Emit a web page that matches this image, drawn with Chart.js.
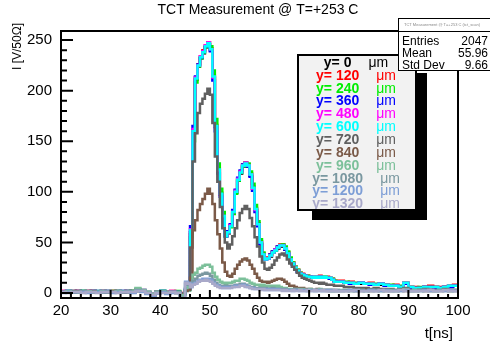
<!DOCTYPE html>
<html><head><meta charset="utf-8">
<script src="https://cdn.jsdelivr.net/npm/chart.js@4/dist/chart.umd.min.js"></script>
<style>html,body{margin:0;padding:0;background:#fff;}#wrap{width:490px;height:341px;}</style>
</head><body><div id="wrap"><canvas id="c" width="490" height="341"></canvas></div>
<script>
// bin edges (ns)
const binEdges = [20,21,22,23,24,25,26,27,28,29,30,31,32,33,34,35,36,37,38,39,40,41,42,43,
44,44.5,45,45.5,46,46.5,47,47.5,48,48.5,49,49.5,50,50.5,51,51.5,52,52.5,53,53.5,54,54.5,55,55.5,56,56.5,57,57.5,58,58.5,59,59.5,60,60.5,61,61.5,62,62.5,63,63.5,64,64.5,65,65.5,66,66.5,67,67.5,68,68.5,69,69.5,70,70.5,71,71.5,72,72.5,73,73.5,74,74.5,75,75.5,
76,77,78,79,80,81,82,83,84,85,86,87,88,89,90,91,92,93,94,95,96,97,98,99,100];

const seriesLabels = ["y= 0","y= 120","y= 240","y= 360","y= 480","y= 600","y= 720","y= 840","y= 960","y= 1080","y= 1200","y= 1320"];
const seriesColors = ["#000000","#ff0000","#00ee00","#0000ff","#ff00ff","#00ffff","#606060","#7b5a48","#7cc09a","#7a98a0","#7d9ed6","#a9a9c9"];

const y0 = [1,2,1,1,2,1,2,1,1,2,1,1,2,1,2,3,2,0,-1,1,2,0,1,1,
-3,-1,3,3, 60,159,211,224, 232,237,243,246, 240,213,164,121, 97,75,56,59, 66,79,99,111, 118,125,127,125, 116,103,82,67, 49,38,33,34, 36,40,42,44, 46,46,43,39, 33,29,25,22, 19,18,17,16, 16,15,15,15, 15,15,15,15, 14,13,11,11,
11,10,10,9,9,9,9,8,8,8,7,7,6,9,6,5,5,6,6,6,5,6,6,7];
const y120 = [2,1,1,2,1,2,1,1,2,1,2,1,1,2,1,2,3,1,-1,1,1,1,2,1,
-2,0,3,4, 58,158,213,226, 234,240,245,248, 242,215,166,123, 99,77,57,61, 67,81,101,113, 120,127,129,127, 118,105,84,69, 51,39,34,35, 38,41,43,46, 48,48,45,40, 34,30,26,23, 20,19,17,17, 16,16,16,16, 17,15,16,16, 15,14,12,12,
12,10,11,9,10,9,10,8,9,8,7,8,6,10,6,6,5,6,7,6,6,6,7,8];
const y240 = [1,1,2,1,2,1,1,2,1,1,2,2,1,1,2,4,2,1,-2,1,2,0,1,2,
-3,-1,3,3, 55,150,208,224, 232,238,243,248, 244,220,172,128, 103,80,59,60, 65,78,98,111, 119,125,129,128, 120,108,87,71, 53,40,34,34, 37,40,42,45, 47,48,46,41, 35,30,26,23, 20,18,17,17, 16,16,16,16, 16,16,16,15, 15,14,12,11,
11,11,10,10,10,9,9,9,9,8,8,7,7,10,6,5,6,6,6,6,5,6,7,7];
const y360 = [1,2,1,2,1,1,2,1,2,1,1,2,1,2,1,3,2,0,-2,0,2,1,1,1,
-2,-1,4,4, 66,165,214,226, 233,239,244,246, 239,210,160,118, 95,74,56,61, 68,82,102,114, 121,127,128,125, 115,101,80,66, 48,37,33,34, 38,41,43,46, 47,47,43,38, 32,28,24,21, 19,18,17,16, 16,15,15,15, 16,15,15,15, 14,13,11,11,
11,10,9,9,10,9,8,8,9,7,7,7,6,9,5,5,5,6,6,5,5,6,6,7];
const y480 = [2,1,2,1,1,2,1,2,1,2,1,1,2,1,1,3,3,1,-1,1,1,0,2,1,
-3,-1,3,4, 63,162,213,225, 234,239,245,248, 241,213,164,121, 97,76,57,60, 67,80,101,113, 120,126,129,126, 117,103,82,68, 50,38,33,34, 37,40,43,45, 47,47,44,39, 33,29,25,22, 19,18,17,16, 16,15,16,15, 16,15,15,15, 15,13,11,11,
11,10,10,9,10,9,9,8,9,8,7,7,6,10,6,5,5,6,6,6,5,6,7,7];
const y600 = [1,2,1,1,2,1,1,2,1,2,1,1,2,2,1,2,3,1,-1,1,2,0,1,1,
-3,-1,4,3, 62,160,212,225, 233,238,244,247, 241,214,165,122, 98,76,56,60, 66,80,100,112, 119,126,128,126, 117,104,83,68, 50,38,33,34, 37,40,42,45, 47,47,44,39, 33,29,25,22, 19,18,17,16, 16,15,16,15, 16,15,16,15, 15,13,11,11,
11,10,10,9,10,9,9,8,9,8,7,7,6,10,6,5,5,6,6,6,5,6,7,7];
const y720 = [1,1,2,1,1,2,1,1,2,1,1,2,1,1,2,3,2,0,-2,1,1,0,1,1,
-3,-1,3,4, 45,130,158,178, 187,192,197,202, 196,168,135,110, 85,64,50,44, 48,56,64,72, 79,83,86,83, 74,66,55,46, 36,30,24,23, 25,28,32,35, 38,39,37,33, 29,26,23,20, 17,15,14,13, 12,11,10,10, 9,10,9,8, 8,8,7,7,
7,6,6,5,5,5,4,5,4,4,4,3,4,5,3,3,3,4,3,3,3,4,3,3];
const y840 = [1,1,1,2,1,1,2,1,1,1,2,1,1,2,1,2,2,0,-2,0,1,1,1,0,
-3,-1,2,3, 15,62,72,82, 88,93,98,103, 98,88,72,58, 44,30,21,17, 16,19,24,28, 31,33,34,32, 28,24,19,15, 12,11,11,10, 11,12,13,14, 14,13,11,9, 7,7,6,5, 5,5,4,4, 4,3,3,4, 3,3,3,2, 3,2,2,2,
2,2,3,2,2,3,2,2,3,2,2,2,3,2,2,2,3,2,2,2,2,3,2,2];
const y960 = [1,2,1,1,1,2,1,1,2,1,1,2,1,1,2,5,3,1,-1,1,2,1,1,1,
-4,-2,5,6, 8,18,20,24, 25,27,28,28, 26,20,16,13, 11,10,9,10, 10,11,12,12, 14,14,13,12, 10,9,8,8, 7,8,7,7, 6,7,6,7, 6,5,5,4, 4,4,3,4, 3,4,3,3, 4,3,3,3, 4,3,3,3, 3,2,3,3,
3,3,2,3,3,2,3,3,2,3,3,2,3,4,2,3,2,3,3,2,3,3,2,3];
const y1080 = [1,1,1,1,2,1,1,1,1,2,1,1,1,2,1,3,2,0,-3,0,1,0,1,0,
-6,-5,9,8, 7,12,14,17, 18,19,20,19, 17,13,10,8, 7,6,7,6, 7,7,8,8, 9,9,8,7, 6,6,5,5, 5,4,5,4, 4,5,4,4, 4,3,4,3, 3,3,4,3, 3,3,3,2, 3,3,2,3, 3,2,3,3, 2,3,2,3,
2,3,2,2,3,2,2,3,2,2,2,3,2,3,2,2,3,2,2,2,3,2,2,3];
const y1200 = [0,1,1,1,1,0,1,1,1,1,0,1,1,1,0,2,1,-1,-3,0,1,-1,0,0,
-7,-6,11,10, 6,9,10,12, 13,14,14,14, 13,10,8,7, 6,5,6,5, 6,6,7,7, 7,8,7,6, 5,5,4,4, 4,4,3,4, 3,4,3,4, 3,3,3,3, 3,2,3,3, 2,3,2,3, 3,2,3,2, 3,2,2,3, 2,3,2,2,
2,2,3,2,2,2,3,2,2,3,2,2,2,3,2,2,2,3,2,2,2,2,3,2];
const y1320 = [1,0,1,1,0,1,1,0,1,1,1,0,1,1,1,2,2,0,-2,0,0,0,1,0,
-7,-5,10,9, 6,8,9,11, 12,12,13,12, 11,9,7,6, 5,5,5,5, 5,6,6,6, 7,7,6,6, 5,4,4,4, 3,4,3,3, 3,3,3,3, 3,2,3,2, 2,3,2,2, 3,2,2,3, 2,2,3,2, 2,3,2,2, 2,2,3,2,
2,2,2,3,2,2,2,2,3,2,2,2,3,2,2,2,2,2,3,2,2,3,2,2];
const seriesValues = [y0,y120,y240,y360,y480,y600,y720,y840,y960,y1080,y1200,y1320];

const xTickValues = [20,30,40,50,60,70,80,90,100];
const yTickValues = [0,50,100,150,200,250];
const xMinorTicks = [22,24,26,28,32,34,36,38,42,44,46,48,52,54,56,58,62,64,66,68,72,74,76,78,82,84,86,88,92,94,96,98];
const yMinorTicks = [10,20,30,40,60,70,80,90,110,120,130,140,160,170,180,190,210,220,230,240];
const statsRows = [["Entries","2047"],["Mean","55.96"],["Std Dev","9.66"]];
const chartTitle = "TCT Measurement @ T=+253 C";
const xTitle = "t[ns]";
const yTitle = "I [V/50\u03A9]";
const unitText = "\u03BCm";

const FONT = "'Liberation Sans', Helvetica, Arial, sans-serif";

const datasets = seriesValues.map((vals, i) => ({
  label: seriesLabels[i],
  data: binEdges.map((x, j) => ({x: x, y: vals[Math.min(j, vals.length - 1)]})),
  borderColor: seriesColors[i],
  borderWidth: 2.5,
  pointRadius: 0,
  fill: false,
  stepped: 'before',
  order: seriesValues.length - 1 - i
}));

const overlay = {
  id: 'overlay',
  afterDraw(chart) {
    const {ctx, chartArea: a, scales} = chart;
    const xs = scales.x, ys = scales.y;
    ctx.save();
    // frame
    ctx.strokeStyle = '#000'; ctx.lineWidth = 2;
    ctx.strokeRect(a.left, a.top, a.right - a.left, a.bottom - a.top);
    // ticks
    ctx.beginPath();
    xMinorTicks.forEach(v => { const p = xs.getPixelForValue(v); ctx.moveTo(p, a.bottom); ctx.lineTo(p, a.bottom - 4); });
    xTickValues.forEach(v => { const p = xs.getPixelForValue(v); ctx.moveTo(p, a.bottom); ctx.lineTo(p, a.bottom - 8); });
    yMinorTicks.forEach(v => { const p = ys.getPixelForValue(v); ctx.moveTo(a.left, p); ctx.lineTo(a.left + 6, p); });
    yTickValues.forEach(v => { const p = ys.getPixelForValue(v); ctx.moveTo(a.left, p); ctx.lineTo(a.left + 12, p); });
    ctx.stroke();

    // titles
    ctx.fillStyle = '#000';
    ctx.font = '14px ' + FONT;
    ctx.textAlign = 'center'; ctx.textBaseline = 'middle';
    ctx.fillText(chartTitle, 258, 10);
    ctx.font = '15px ' + FONT;
    ctx.textAlign = 'right'; ctx.textBaseline = 'top';
    ctx.fillText(xTitle, 453, 326);
    ctx.save();
    ctx.translate(18, 23); ctx.rotate(-Math.PI / 2);
    ctx.textAlign = 'right'; ctx.textBaseline = 'middle';
    ctx.font = '12px ' + FONT;
    ctx.fillText(yTitle, 0, 0);
    ctx.restore();

    // legend box with shadow
    const lx = 298, ly = 55, lw = 118, lh = 155;
    ctx.fillStyle = '#000';
    ctx.fillRect(lx + lw, ly + 18, 11, lh - 18 + 10);
    ctx.fillRect(lx + 14, ly + lh, lw - 14 + 11, 10);
    ctx.fillStyle = '#f2f2f2';
    ctx.fillRect(lx, ly, lw, lh);
    ctx.strokeStyle = '#000'; ctx.lineWidth = 2;
    ctx.strokeRect(lx, ly, lw, lh);
    ctx.save();
    ctx.beginPath(); ctx.rect(lx + 1, ly + 1, lw - 2, lh - 2); ctx.clip();
    ctx.textBaseline = 'middle'; ctx.textAlign = 'left';
    seriesLabels.forEach((lab, i) => {
      const yy = 63 + i * 12.85;
      ctx.font = 'bold 14px ' + FONT;
      const w1 = ctx.measureText(lab).width;
      ctx.font = '14px ' + FONT;
      const w2 = ctx.measureText(unitText).width;
      const gap = 17;
      const start = 356 - (w1 + gap + w2) / 2;
      ctx.fillStyle = seriesColors[i];
      ctx.font = 'bold 14px ' + FONT;
      ctx.fillText(lab, start, yy);
      ctx.font = '14px ' + FONT;
      ctx.fillText(unitText, start + w1 + gap, yy);
    });
    ctx.restore();

    // stats box
    const sx = 398, sy = 18, sw = 100, sh = 52;
    ctx.fillStyle = '#fff';
    ctx.fillRect(sx, sy, sw, sh);
    ctx.strokeStyle = '#000'; ctx.lineWidth = 1;
    ctx.strokeRect(sx + 0.5, sy + 0.5, sw, sh);
    ctx.beginPath(); ctx.moveTo(sx, 31.5); ctx.lineTo(sx + sw, 31.5); ctx.stroke();
    ctx.fillStyle = '#888';
    ctx.font = '4px ' + FONT; ctx.textAlign = 'center'; ctx.textBaseline = 'middle';
    ctx.fillText(chartTitle + " (tct_scan)", 442, 25);
    ctx.fillStyle = '#000';
    ctx.font = '12px ' + FONT;
    const rowY = [41.5, 53.5, 66];
    statsRows.forEach((r, i) => {
      ctx.textAlign = 'left'; ctx.fillText(r[0], 402, rowY[i]);
      ctx.textAlign = 'right'; ctx.fillText(r[1], 488, rowY[i]);
    });
    ctx.restore();
  }
};

new Chart(document.getElementById('c'), {
  type: 'line',
  data: { datasets: datasets },
  options: {
    responsive: false, animation: false, devicePixelRatio: 1,
    layout: { padding: { top: 31, right: 32, left: 0, bottom: 0 } },
    plugins: { legend: { display: false }, tooltip: { enabled: false }, title: { display: false } },
    scales: {
      x: {
        type: 'linear', min: 20, max: 100,
        afterBuildTicks: s => { s.ticks = xTickValues.map(v => ({value: v})); },
        afterFit: s => { s.height = 43; },
        grid: { display: false, drawTicks: false }, border: { display: false },
        ticks: { color: '#000', font: { family: FONT, size: 15 }, padding: 4, maxRotation: 0, autoSkip: false }
      },
      y: {
        type: 'linear', min: -5, max: 259,
        afterBuildTicks: s => { s.ticks = yTickValues.map(v => ({value: v})); },
        afterFit: s => { s.width = 61; },
        grid: { display: false, drawTicks: false }, border: { display: false },
        ticks: { color: '#000', font: { family: FONT, size: 15 }, padding: 9, autoSkip: false }
      }
    }
  },
  plugins: [overlay]
});
</script></body></html>
